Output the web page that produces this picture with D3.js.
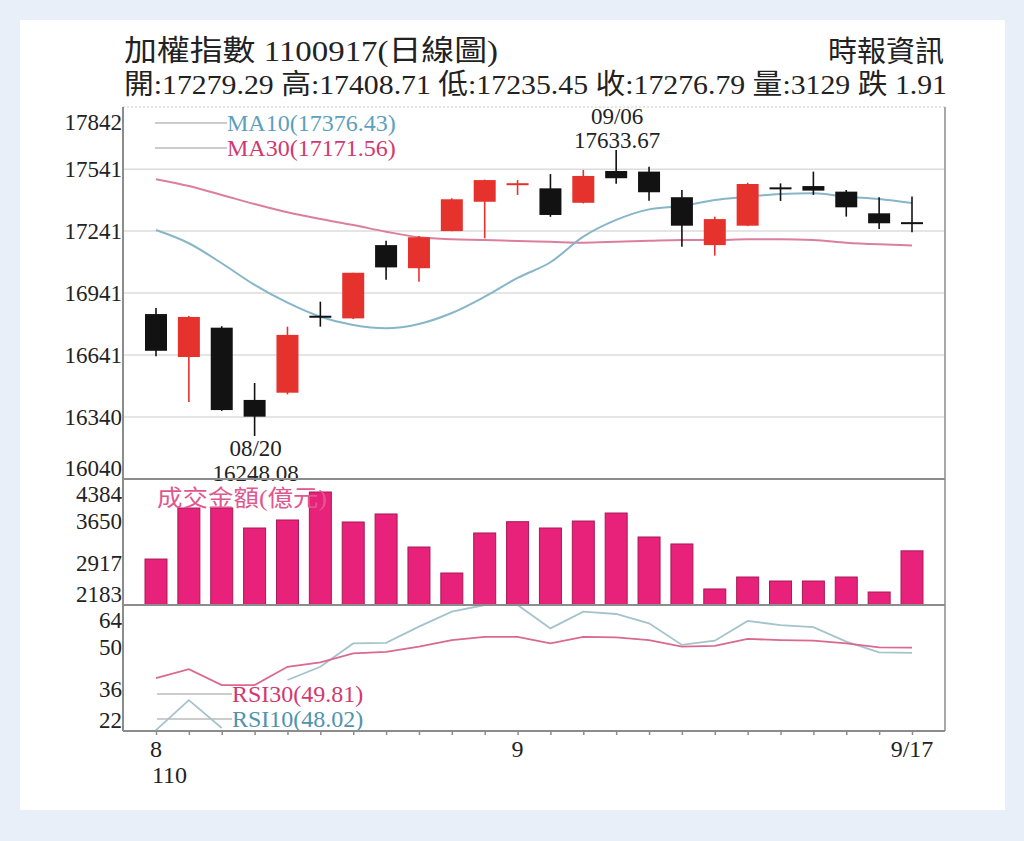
<!DOCTYPE html>
<html>
<head>
<meta charset="utf-8">
<script src="https://cdn.jsdelivr.net/npm/d3@7"></script>
<style>
  body { margin: 0; background: #e9eff8; }
  svg { display: block; font-family: "Liberation Serif", "Times New Roman", "Noto Sans CJK TC", serif; }
</style>
</head>
<body>
<svg id="chart"></svg>
<script>
// 交易日 (民國110年 8/17 ~ 9/17)
const dates = ["08/17","08/18","08/19","08/20","08/23","08/24","08/25","08/26","08/27","08/30","08/31",
  "09/01","09/02","09/03","09/06","09/07","09/08","09/09","09/10","09/13","09/14","09/15","09/16","09/17"];

const openP  = [16839,16631,16773,16423,16458,16826,16818,17173,17061,17241,17383,
  17464,17448,17378,17532,17529,17405,17173,17267,17448,17459,17432,17327,17279.29];
const highP  = [16868,16830,16780,16505,16778,16899,17039,17194,17217,17400,17490,
  17488,17517,17537,17633.67,17553,17440,17311,17475,17472,17529,17440,17405,17408.71];
const lowP   = [16635,16413,16370,16248.08,16450,16778,16815,17005,16996,17240,17206,
  17416,17310,17375,17470,17388,17165,17122,17265,17387,17416,17311,17251,17235.45];
const closeP = [16661,16825,16374,16342,16738,16820,17039,17065,17211,17395,17488,
  17468,17319,17508,17497,17429,17267,17299,17469,17443,17437,17356,17278.70,17276.79];

const ma10 = [17246,17182,17085,16980,16894,16826,16786,16770,16791,16844,16923,
  17014,17090,17214,17295,17346,17362,17391,17407,17421,17424,17407,17396,17376.43];
const ma30 = [17492,17459,17416,17372,17332,17299,17270,17238,17211,17201,17198,
  17193,17189,17185,17189,17194,17198,17198,17201,17201,17198,17185,17177,17171.56];

// 成交金額(億元)
const volume = [2986,3877,3877,3528,3668,4157,3633,3773,3196,2742,3441,
  3638,3528,3650,3790,3371,3249,2463,2672,2602,2602,2672,2410,3129];

const rsi30 = [39.6,42.6,37.3,37.3,43.4,44.9,47.9,48.4,50.1,52.3,53.4,
  53.4,51.2,53.4,53.2,52.3,50.1,50.4,52.7,52.3,52.1,51.2,49.9,49.81];
const rsi10 = [22.3,32.3,23.0,18.0,39.0,43.4,51.2,51.4,56.8,61.8,65.0,
  65.0,56.2,61.8,61.0,57.9,50.7,52.1,58.7,57.3,56.6,51.8,48.2,48.02];

const priceTicks = [17842,17541,17241,16941,16641,16340,16040];
const volumeTicks = [4384,3650,2917,2183];
const rsiTicks = [64,50,36,22];

const monthLabels = [
  { date: "08/17", lines: ["8", "110"] },
  { date: "09/01", lines: ["9"] },
  { date: "09/17", lines: ["9/17"] }
];
const markers = [
  { date: "08/20", side: "low", lines: ["08/20", "16248.08"] },
  { date: "09/06", side: "high", lines: ["09/06", "17633.67"] }
];

const titleText = "加權指數 1100917(日線圖)";
const sourceText = "時報資訊";
const quoteText = "開:17279.29 高:17408.71 低:17235.45 收:17276.79 量:3129 跌 1.91";

const data = dates.map((d, i) => ({
  date: d, open: openP[i], high: highP[i], low: lowP[i], close: closeP[i],
  ma10: ma10[i], ma30: ma30[i], vol: volume[i], rsi30: rsi30[i], rsi10: rsi10[i]
}));

const width = 1024, height = 841;
const left = 123, right = 945;
const priceTop = 107, priceBottom = 479, volBottom = 605, rsiBottom = 731;

const svg = d3.select("#chart").attr("width", width).attr("height", height);

svg.append("rect").attr("x", 20).attr("y", 20).attr("width", 985).attr("height", 790).attr("fill", "#fff");

const x = d3.scalePoint().domain(dates).range([156, 912]);
const y = d3.scaleLinear().domain([16040, 17842]).range([priceBottom, priceTop]);
const yVol = d3.scaleLinear().domain([2183, 4384]).range([volBottom, priceBottom]);
const yRsi = d3.scaleLinear().domain([22, 64]).range([rsiBottom, volBottom]).clamp(true);

// title
svg.append("text").attr("x", 124).attr("y", 61).attr("font-size", 29).attr("fill", "#222")
  .attr("textLength", 374).attr("lengthAdjust", "spacingAndGlyphs").text(titleText);
svg.append("text").attr("x", 944).attr("y", 62).attr("font-size", 29).attr("fill", "#222")
  .attr("text-anchor", "end").text(sourceText);
svg.append("text").attr("x", 124).attr("y", 94).attr("font-size", 28).attr("fill", "#222")
  .attr("textLength", 823).attr("lengthAdjust", "spacingAndGlyphs").text(quoteText);

// price grid
svg.append("line").attr("x1", left).attr("x2", right).attr("y1", priceTop).attr("y2", priceTop)
  .attr("stroke", "#ccc").attr("stroke-dasharray", "2,2");
svg.append("g").selectAll("line")
  .data(priceTicks.slice(1, -1))
  .join("line")
  .attr("x1", left).attr("x2", right)
  .attr("y1", d => y(d)).attr("y2", d => y(d))
  .attr("stroke", "#dcdcdc").attr("stroke-width", 1.5);

// y labels, end labels kept inside their panel
function tickLabels(ticks, scale, top, bottom) {
  svg.append("g")
    .attr("font-size", 23).attr("fill", "#222").attr("text-anchor", "end")
    .selectAll("text")
    .data(ticks)
    .join("text")
    .attr("x", left - 1)
    .attr("y", d => Math.min(Math.max(scale(d), top + 15), bottom - 11))
    .attr("dy", "0.35em")
    .text(d => d);
}
tickLabels(priceTicks, y, priceTop, priceBottom);
tickLabels(volumeTicks, yVol, priceBottom, volBottom);
tickLabels(rsiTicks, yRsi, volBottom, rsiBottom);

// moving averages
const maLine = key => d3.line().x(d => x(d.date)).y(d => y(d[key])).curve(d3.curveMonotoneX);
svg.append("path").datum(data).attr("d", maLine("ma30"))
  .attr("fill", "none").attr("stroke", "#dc7ea0").attr("stroke-width", 2);
svg.append("path").datum(data).attr("d", maLine("ma10"))
  .attr("fill", "none").attr("stroke", "#86b6c8").attr("stroke-width", 2);

// candles
const up = d => d.close >= d.open;
const candleColor = d => up(d) ? "#e5322d" : "#121212";
const candles = svg.append("g").selectAll("g").data(data).join("g");
candles.append("line")
  .attr("x1", d => x(d.date)).attr("x2", d => x(d.date))
  .attr("y1", d => y(d.high)).attr("y2", d => y(d.low))
  .attr("stroke", candleColor).attr("stroke-width", 1.6);
candles.append("rect")
  .attr("x", d => x(d.date) - 11)
  .attr("width", 22)
  .attr("y", d => Math.min(y(d.open), y(d.close)) - (Math.abs(y(d.open) - y(d.close)) < 2 ? 1 : 0))
  .attr("height", d => Math.max(Math.abs(y(d.open) - y(d.close)), 2))
  .attr("fill", candleColor);

// high / low markers
const markerText = svg.append("g").attr("font-size", 23).attr("fill", "#222").attr("text-anchor", "middle");
markers.forEach(m => {
  const d = data.find(v => v.date === m.date);
  m.lines.forEach((t, i) => {
    const yy = m.side === "low" ? y(d.low) + 20 + i * 25 : y(d.high) - 26 + i * 24;
    markerText.append("text").attr("x", x(d.date) + 1).attr("y", yy).text(t);
  });
});

// MA legend
const maLegend = [
  { label: "MA10(17376.43)", color: "#5d9fbe", y: 123 },
  { label: "MA30(17171.56)", color: "#d2386f", y: 148 }
];
maLegend.forEach(l => {
  svg.append("line").attr("x1", 155).attr("x2", 227).attr("y1", l.y).attr("y2", l.y)
    .attr("stroke", "#bbb").attr("stroke-width", 1.5);
  svg.append("text").attr("x", 227).attr("y", l.y).attr("dy", "0.35em")
    .attr("font-size", 24).attr("fill", l.color).text(l.label);
});

// volume bars
svg.append("g").selectAll("rect")
  .data(data)
  .join("rect")
  .attr("x", d => x(d.date) - 11)
  .attr("width", 22)
  .attr("y", d => yVol(d.vol))
  .attr("height", d => volBottom - yVol(d.vol))
  .attr("fill", "#e8217a")
  .attr("stroke", "#a81a55")
  .attr("stroke-width", 1);
svg.append("text").attr("x", 157).attr("y", 506).attr("font-size", 23).attr("fill", "#e0588f")
  .attr("textLength", 170).attr("lengthAdjust", "spacingAndGlyphs").text("成交金額(億元)");

// RSI
const rsiLine = key => d3.line().defined(d => d[key] >= 22).x(d => x(d.date)).y(d => yRsi(d[key]));
svg.append("path").datum(data).attr("d", rsiLine("rsi10"))
  .attr("fill", "none").attr("stroke", "#a4c3cc").attr("stroke-width", 1.8);
svg.append("path").datum(data).attr("d", rsiLine("rsi30"))
  .attr("fill", "none").attr("stroke", "#d9698f").attr("stroke-width", 1.8);

const rsiLegend = [
  { label: "RSI30(49.81)", color: "#d2386f", y: 694 },
  { label: "RSI10(48.02)", color: "#4f93ad", y: 719 }
];
rsiLegend.forEach(l => {
  svg.append("line").attr("x1", 157).attr("x2", 232).attr("y1", l.y).attr("y2", l.y)
    .attr("stroke", "#bbb").attr("stroke-width", 1.5);
  svg.append("text").attr("x", 232).attr("y", l.y).attr("dy", "0.35em")
    .attr("font-size", 24).attr("fill", l.color).text(l.label);
});

// frame
const frame = svg.append("g").attr("stroke", "#8c8c8c").attr("stroke-width", 2);
frame.append("line").attr("x1", left).attr("x2", left).attr("y1", priceTop).attr("y2", rsiBottom);
frame.append("line").attr("x1", right).attr("x2", right).attr("y1", priceTop).attr("y2", rsiBottom).attr("stroke", "#a8a8a8");
[priceBottom, volBottom, rsiBottom].forEach(v =>
  frame.append("line").attr("x1", left).attr("x2", right).attr("y1", v).attr("y2", v));

// x axis ticks
svg.append("g")
  .attr("transform", `translate(0,${rsiBottom})`)
  .call(d3.axisBottom(x).tickSize(4).tickFormat(""))
  .call(g => g.select(".domain").remove())
  .call(g => g.selectAll(".tick line").attr("stroke", "#8c8c8c").attr("stroke-width", 1.5));

const xLab = svg.append("g").attr("font-size", 24).attr("fill", "#222");
monthLabels.forEach(m => {
  m.lines.forEach((t, i) => {
    xLab.append("text")
      .attr("x", i === 0 ? x(m.date) : x(m.date) - 4)
      .attr("y", 757 + i * 26)
      .attr("text-anchor", i === 0 ? "middle" : "start")
      .text(t);
  });
});
</script>
</body>
</html>
